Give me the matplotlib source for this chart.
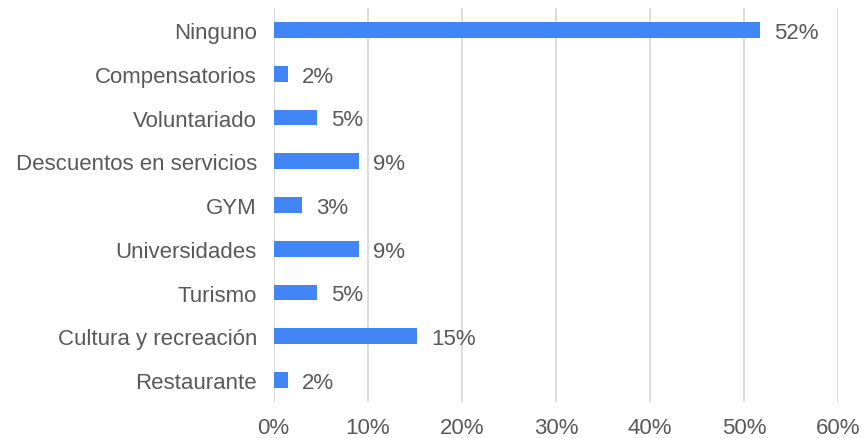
import numpy as np
import matplotlib.pyplot as plt

categorias = ["Ninguno", "Compensatorios", "Voluntariado", "Descuentos en servicios",
              "GYM", "Universidades", "Turismo", "Cultura y recreación", "Restaurante"]
valores = [51.7, 1.5, 4.6, 9.1, 3.0, 9.1, 4.6, 15.2, 1.5]
etiquetas = ["52%", "2%", "5%", "9%", "3%", "9%", "5%", "15%", "2%"]
ticks = [0, 10, 20, 30, 40, 50, 60]

plt.rcParams['font.family'] = ['Liberation Sans', 'DejaVu Sans']
gris = "#595959"

fig = plt.figure(figsize=(8.66, 4.39), dpi=100)
ax = fig.add_axes([0.316, 0.082, 0.652, 0.897])

y = np.arange(len(categorias))
ax.barh(y, valores, height=0.36, color="#4285F4", zorder=3)
for yi, v, t in zip(y, valores, etiquetas):
    ax.text(v + 1.5, yi + 0.05, t, va="center", ha="left", fontsize=16, color=gris)

ax.set_yticks(y)
ax.set_yticklabels(categorias, fontsize=16, color=gris)
ax.set_ylim(len(categorias) - 0.5, -0.5)
ax.set_xlim(0, 60)
ax.set_xticks(ticks)
ax.set_xticklabels([f"{t}%" for t in ticks], fontsize=16, color=gris)
ax.grid(axis="x", color="#d9d9d9", linewidth=1.3, zorder=0)
ax.tick_params(length=0, pad=12)
ax.tick_params(axis="x", pad=11)
for s in ax.spines.values():
    s.set_visible(False)

plt.savefig("out.png", dpi=100)
